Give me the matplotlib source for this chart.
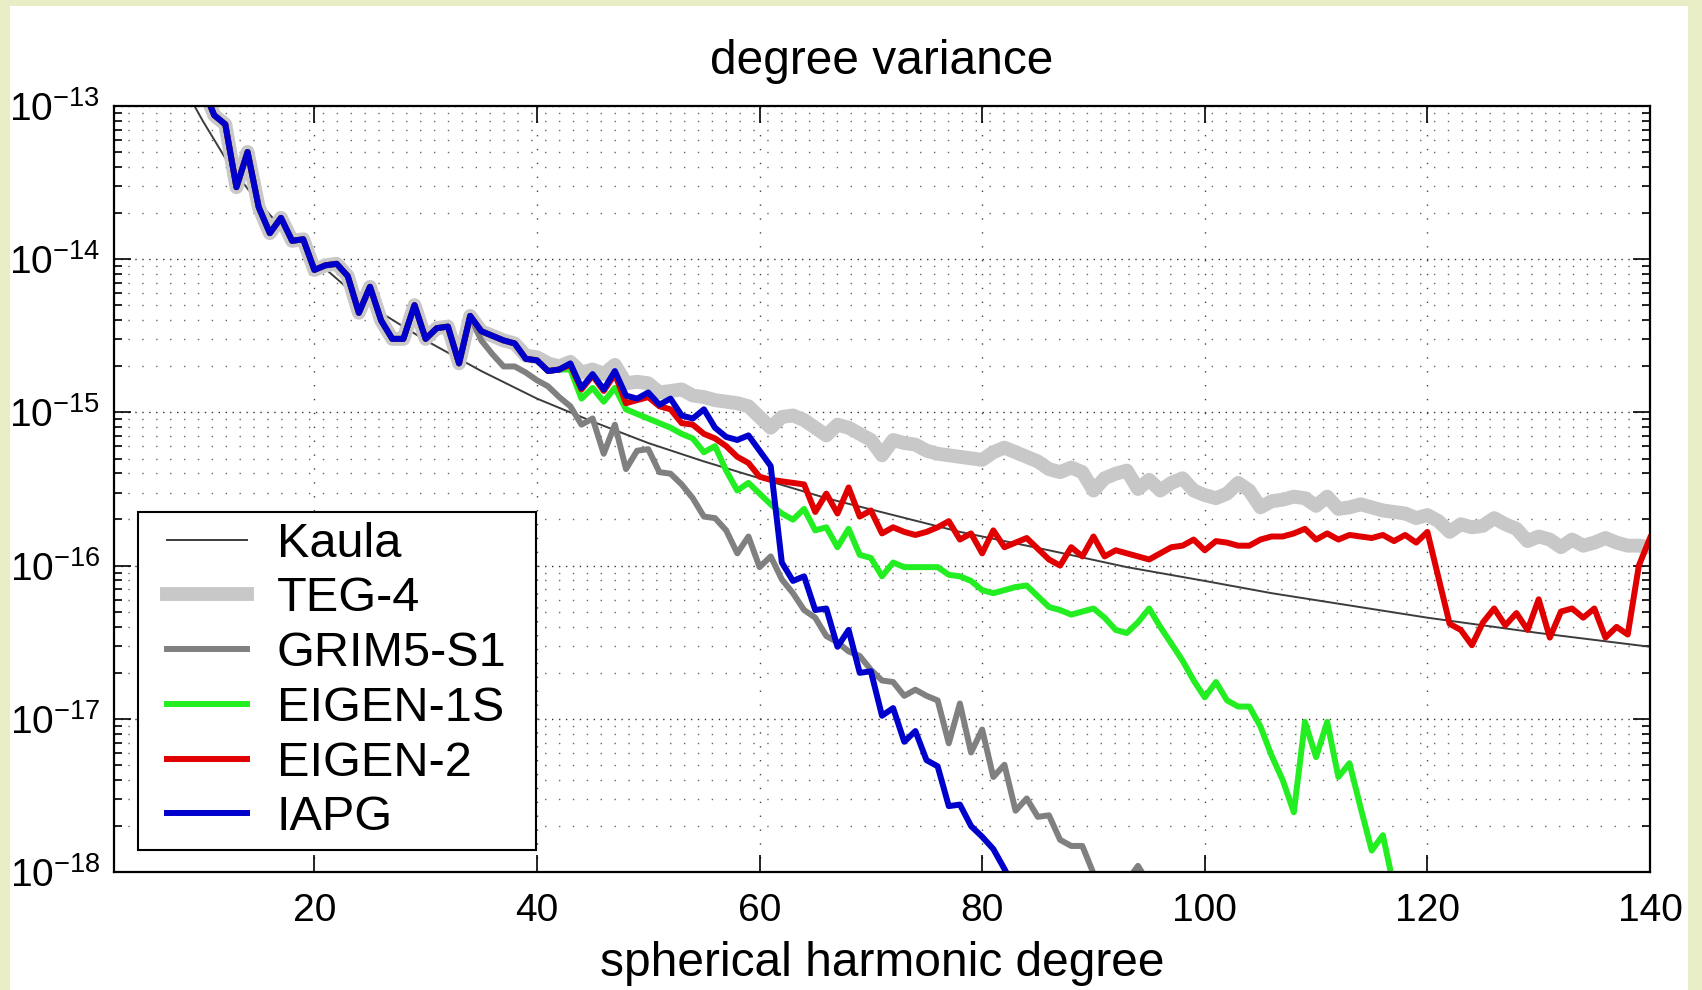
import numpy as np
import matplotlib
matplotlib.use("Agg")
import matplotlib.pyplot as plt
from matplotlib.patches import Rectangle
from matplotlib.lines import Line2D
from matplotlib.legend_handler import HandlerLine2D
from matplotlib.ticker import FixedLocator, NullFormatter

plt.rcParams['font.family'] = ['Liberation Sans', 'DejaVu Sans']
plt.rcParams['mathtext.fontset'] = 'custom'
plt.rcParams['mathtext.rm'] = 'Liberation Sans'
plt.rcParams['mathtext.it'] = 'Liberation Sans'
plt.rcParams['mathtext.default'] = 'regular'
plt.rcParams['axes.unicode_minus'] = False

# ==========================================
# DATA (log10 of degree variance)
# ==========================================
# degrees 10..34: all solutions lie on top of each other
common_log = [-12.88, -13.06, -13.12, -13.53, -13.30, -13.66, -13.83, -13.73, -13.88, -13.87,
              -14.07, -14.04, -14.03, -14.11, -14.35, -14.18, -14.40, -14.52, -14.52, -14.30,
              -14.52, -14.45, -14.44, -14.68, -14.37]

# IAPG, degrees 35..83
iapg_log = [-14.47, -14.50, -14.53, -14.55, -14.65, -14.66, -14.73, -14.72, -14.68, -14.84,
            -14.75, -14.85, -14.73, -14.89, -14.91, -14.87, -14.95, -14.91, -15.02, -15.04,
            -14.98, -15.10, -15.16, -15.18, -15.15, -15.25, -15.35, -15.98, -16.10, -16.07,
            -16.29, -16.28, -16.53, -16.42, -16.70, -16.69, -16.98, -16.93, -17.15, -17.08,
            -17.27, -17.31, -17.57, -17.56, -17.70, -17.77, -17.85, -17.98, -18.12]

# GRIM5-S1, degrees 35..95
grim_log = [-14.53, -14.62, -14.70, -14.70, -14.74, -14.79, -14.83, -14.90, -14.96, -15.08,
            -15.04, -15.27, -15.08, -15.37, -15.25, -15.24, -15.39, -15.40, -15.47, -15.56,
            -15.68, -15.69, -15.77, -15.92, -15.81, -16.01, -15.94, -16.09, -16.18, -16.29,
            -16.34, -16.46, -16.50, -16.56, -16.59, -16.68, -16.75, -16.76, -16.85, -16.81,
            -16.85, -16.88, -17.16, -16.90, -17.22, -17.07, -17.38, -17.30, -17.60, -17.52,
            -17.64, -17.63, -17.79, -17.83, -17.83, -18.01, -18.12, -18.15, -18.06, -17.96,
            -18.08]

# EIGEN-1S, degrees 35..117
eigen1s_log = [-14.47, -14.50, -14.53, -14.55, -14.65, -14.66, -14.73, -14.72, -14.72, -14.91,
               -14.84, -14.93, -14.84, -14.98, -15.01, -15.04, -15.07, -15.10, -15.14, -15.17,
               -15.26, -15.22, -15.38, -15.51, -15.46, -15.53, -15.60, -15.66, -15.70, -15.63,
               -15.77, -15.75, -15.88, -15.76, -15.93, -15.95, -16.07, -15.98, -16.01, -16.01,
               -16.01, -16.01, -16.06, -16.07, -16.10, -16.16, -16.18, -16.16, -16.14, -16.13,
               -16.20, -16.27, -16.29, -16.32, -16.30, -16.28, -16.34, -16.42, -16.44, -16.37,
               -16.28, -16.40, -16.51, -16.62, -16.75, -16.86, -16.76, -16.88, -16.92, -16.92,
               -17.05, -17.24, -17.40, -17.61, -17.02, -17.25, -17.02, -17.38, -17.29, -17.58,
               -17.86, -17.76, -18.10]

# EIGEN-2, degrees 35..140
eigen2_log = [-14.47, -14.50, -14.53, -14.55, -14.65, -14.66, -14.73, -14.72, -14.69, -14.85,
              -14.76, -14.86, -14.75, -14.94, -14.92, -14.90, -14.96, -14.98, -15.07, -15.08,
              -15.14, -15.17, -15.22, -15.29, -15.33, -15.42, -15.44, -15.45, -15.46, -15.47,
              -15.65, -15.53, -15.66, -15.49, -15.68, -15.64, -15.79, -15.75, -15.78, -15.80,
              -15.78, -15.75, -15.71, -15.83, -15.79, -15.92, -15.77, -15.88, -15.85, -15.82,
              -15.89, -15.96, -16.00, -15.88, -15.94, -15.81, -15.94, -15.90, -15.92, -15.94,
              -15.96, -15.92, -15.88, -15.87, -15.83, -15.90, -15.84, -15.85, -15.87, -15.87,
              -15.83, -15.81, -15.81, -15.79, -15.76, -15.83, -15.79, -15.83, -15.80, -15.81,
              -15.82, -15.80, -15.84, -15.80, -15.85, -15.78, -16.08, -16.38, -16.42, -16.52,
              -16.37, -16.28, -16.39, -16.31, -16.42, -16.22, -16.47, -16.30, -16.28, -16.34,
              -16.28, -16.47, -16.40, -16.45, -16.00, -15.82]

# TEG-4, degrees 35..140
teg4_log = [-14.47, -14.50, -14.53, -14.55, -14.63, -14.64, -14.68, -14.70, -14.67, -14.74,
            -14.72, -14.75, -14.69, -14.81, -14.80, -14.81, -14.87, -14.86, -14.85, -14.89,
            -14.90, -14.92, -14.93, -14.94, -14.96, -15.03, -15.10, -15.03, -15.02, -15.05,
            -15.10, -15.15, -15.08, -15.10, -15.14, -15.18, -15.28, -15.18, -15.20, -15.21,
            -15.25, -15.27, -15.28, -15.29, -15.30, -15.31, -15.26, -15.23, -15.26, -15.29,
            -15.32, -15.37, -15.39, -15.36, -15.39, -15.51, -15.43, -15.40, -15.38, -15.50,
            -15.44, -15.51, -15.46, -15.43, -15.51, -15.54, -15.56, -15.53, -15.46, -15.51,
            -15.62, -15.58, -15.57, -15.55, -15.56, -15.61, -15.55, -15.63, -15.62, -15.60,
            -15.62, -15.64, -15.65, -15.66, -15.69, -15.67, -15.71, -15.78, -15.73, -15.75,
            -15.74, -15.69, -15.73, -15.76, -15.84, -15.81, -15.83, -15.88, -15.83, -15.87,
            -15.85, -15.82, -15.85, -15.87, -15.87, -15.88]

# Kaula rule curve, read at selected degrees
kaula_deg = [9, 10, 11, 12, 13, 14, 16, 18, 20, 23, 26, 30, 35, 40, 45, 50, 55, 60,
             66, 72, 78, 86, 93, 100, 106, 113, 120, 130, 140]
kaula_log = [-12.97, -13.10, -13.22, -13.34, -13.44, -13.54, -13.71, -13.87, -14.00, -14.19,
             -14.35, -14.53, -14.73, -14.91, -15.06, -15.20, -15.32, -15.43, -15.56, -15.67,
             -15.78, -15.90, -16.01, -16.10, -16.18, -16.26, -16.34, -16.44, -16.53]

xticks = [20, 40, 60, 80, 100, 120, 140]
decades = [-18, -17, -16, -15, -14, -13]

def series(log_vals):
    vals = common_log + log_vals
    deg = np.arange(10, 10 + len(vals))
    return deg, 10.0 ** np.array(vals)


class InsetLine(HandlerLine2D):
    # legend line that starts a bit right of the handle box
    def get_xdata(self, legend, xdescent, ydescent, width, height, fontsize):
        x = np.array([-xdescent + 0.4 * fontsize, width - xdescent])
        return x, x

# ==========================================
# FIGURE
# ==========================================
W, H = 1702, 990
fig = plt.figure(figsize=(W / 100, H / 100), dpi=100)
fig.patch.set_facecolor('#e8edc6')
panel = Rectangle((10 / W, 0), 1678 / W, 984 / H, transform=fig.transFigure,
                  facecolor='white', edgecolor='none', zorder=-10)
fig.add_artist(panel)

ax = fig.add_axes([114 / W, 1 - 872 / H, 1536 / W, 766 / H])
ax.set_facecolor('white')

LW = 4.3
ax.plot(kaula_deg, 10.0 ** np.array(kaula_log), color='#3c3c3c', lw=1.4, label='Kaula')
d, v = series(teg4_log)
ax.plot(d, v, color='#c8c8c8', lw=10, label='TEG-4', solid_joinstyle='round')
d, v = series(grim_log)
ax.plot(d, v, color='#808080', lw=LW, label='GRIM5-S1')
d, v = series(eigen1s_log)
ax.plot(d, v, color='#22ee22', lw=LW, label='EIGEN-1S')
d, v = series(eigen2_log)
ax.plot(d, v, color='#e00000', lw=LW, label='EIGEN-2')
d, v = series(iapg_log)
ax.plot(d, v, color='#0000cc', lw=LW, label='IAPG')

ax.set_yscale('log')
ax.set_xlim(2, 140)
ax.set_ylim(1e-18, 1e-13)
ax.set_xticks(xticks)
major_y = [10.0 ** k for k in decades]
minor_y = [m * 10.0 ** k for k in decades[:-1] for m in range(2, 10)]
ax.yaxis.set_major_locator(FixedLocator(major_y))
ax.yaxis.set_minor_locator(FixedLocator(minor_y))
ax.yaxis.set_minor_formatter(NullFormatter())

ax.tick_params(which='both', direction='in', top=True, right=True, width=1.2, colors='black')
ax.tick_params(which='major', length=12, labelsize=28)
ax.tick_params(axis='x', which='major', pad=15)
ax.tick_params(axis='y', which='major', pad=10)
ax.tick_params(which='minor', length=6)
for s in ax.spines.values():
    s.set_linewidth(1.6)

ax.set_axisbelow(True)
ax.grid(True, which='major', axis='x', color='#444444', lw=1.0, linestyle=(0, (1, 9)))
ax.grid(True, which='major', axis='y', color='#333333', lw=1.0, linestyle=(0, (1, 4)))
ax.grid(True, which='minor', axis='y', color='#666666', lw=1.0, linestyle=(0, (1, 9)))

ax.set_title('degree variance', fontsize=34.5, pad=23)
ax.set_xlabel('spherical harmonic degree', fontsize=34.5, labelpad=9)

leg = ax.legend(loc='lower left', bbox_to_anchor=(0.0156, 0.0287, 0.2594, 0.4),
                mode='expand', borderaxespad=0,
                fontsize=35, fancybox=False, framealpha=1, edgecolor='black',
                handlelength=2.05, handletextpad=0.6, labelspacing=0.2, borderpad=0.2,
                handler_map={Line2D: InsetLine()})
leg.get_frame().set_linewidth(1.5)

fig.savefig('out.png', dpi=100, facecolor=fig.get_facecolor())
